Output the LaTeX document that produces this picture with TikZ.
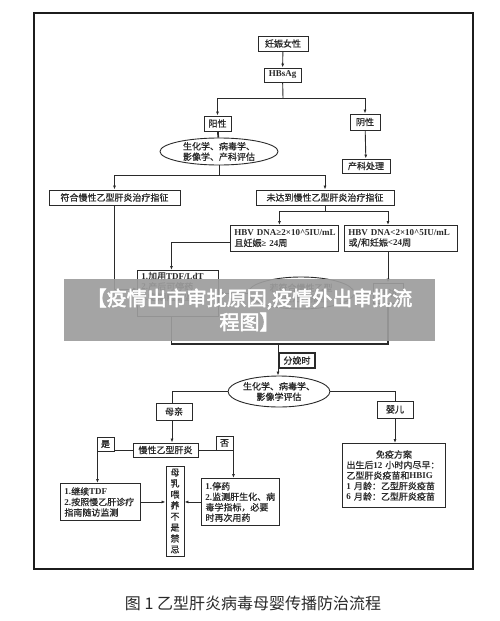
\documentclass[tikz,border=0pt]{standalone}
\usepackage{fontspec}
\setmainfont{Liberation Serif}
\newfontfamily\hei[FakeBold=0.8]{Noto Sans CJK SC}
\newfontfamily\capfont{Noto Sans CJK SC}
\newfontfamily\bannerfont[FakeBold=2.5]{Noto Sans CJK SC}
\newcommand\lat[1]{{\rmfamily\bfseries #1}}
\usetikzlibrary{arrows.meta,shapes.geometric}
\definecolor{ink}{HTML}{2A2A2A}
\definecolor{frameline}{HTML}{1C1C1C}
\definecolor{banner}{HTML}{9D9D9D}
\tikzset{
  box/.style={draw=ink,line width=.9pt,fill=white,inner sep=2pt,
    font=\hei\fontsize{9}{10.5}\selectfont,text=ink,align=center},
  left box/.style={box,anchor=north west,align=left,inner xsep=4pt,inner ysep=3pt},
  oval/.style={box,ellipse,inner sep=0pt},
  link/.style={draw=ink,line width=.9pt,-{Latex[length=4pt,width=3pt]}},
  plain/.style={draw=ink,line width=.9pt},
  merge/.style={draw=ink,line width=1.7pt},
  banner text/.style={font=\bannerfont\fontsize{20}{24}\selectfont,text=white,
    align=center,text width=345pt}
}
\begin{document}
\begin{tikzpicture}[x=1pt,y=-1pt]
  \path[use as bounding box] (0,0) rectangle (500,621);
  \fill[white] (0,0) rectangle (500,621);
  \draw[frameline,line width=1.6pt] (34,13) rectangle (473,569);

  % Screening.
  \node[box,minimum width=50pt,minimum height=15pt] (pregnant) at (283,43.5) {妊娠女性};
  \node[box,minimum width=37pt,minimum height=14pt,
        font=\rmfamily\bfseries\fontsize{9}{10.5}\selectfont] (hbsag) at (282.5,75) {HBsAg};
  \node[box,minimum width=27pt,minimum height=15pt] (pos) at (217.5,123.5) {阳性};
  \node[box,minimum width=30pt,minimum height=16pt] (neg) at (365,122) {阴性};
  \node[oval,minimum width=118pt,minimum height=27pt] (evalone) at (219,151.5)
    {生化学、病毒学、\\影像学、产科评估};
  \node[box,minimum width=48pt,minimum height=14pt] (obst) at (366,166) {产科处理};

  \draw[link] (pregnant) -- (hbsag);
  \coordinate (splitone) at (283,98);
  \draw[plain] (hbsag) -- (splitone);
  \draw[link] (splitone) -| (pos);
  \draw[link] (splitone) -| (neg);
  \draw[merge] (pos) -- (evalone);
  \draw[link] (neg) -- (obst);

  % Treatment indication.
  \node[box,minimum width=131pt,minimum height=15pt] (meet) at (114.5,197.5) {符合慢性乙型肝炎治疗指征};
  \node[box,minimum width=138pt,minimum height=15pt] (notmeet) at (325,197.5) {未达到慢性乙型肝炎治疗指征};
  \coordinate (splittwo) at (219,175);
  \draw[plain] (evalone) -- (splittwo);
  \draw[link] (splittwo) -| (meet);
  \draw[link] (splittwo) -| (notmeet);

  \node[left box,text width=100pt,minimum height=26pt] (high) at (230,225)
    {\mbox{\lat{HBV DNA≥2×10\textasciicircum5IU/mL}}\\且妊娠\lat{≥ 24}周};
  \node[left box,text width=105pt,minimum height=26pt] (low) at (344,225)
    {\mbox{\lat{HBV DNA<2×10\textasciicircum5IU/mL}}\\或/和妊娠\lat{<24}周};
  \node[left box,text width=73pt,text depth=36pt,inner ysep=1.5pt] (addtdf) at (137,270)
    {\lat{1.}加用\lat{TDF/LdT}\\\lat{2.}产后可停药\\\lat{3.}定期随访监测};
  \node[oval,minimum width=106pt,minimum height=32pt] (ifmeet) at (301,293)
    {若符合慢性乙型\\肝炎治疗指征};
  \node[box,minimum width=30pt,minimum height=20pt] (follow) at (388,293) {随访};

  \coordinate (splitthree) at (325,211);
  \draw[plain] (notmeet) -- (splitthree);
  \draw[link] (splitthree) -| ([xshift=-5pt]high.north);
  \draw[link] (splitthree) -| (follow.north |- low.north);
  \draw[link] ([yshift=-4pt]high.west) -| ([xshift=-6.5pt]addtdf.north);
  \draw[link] (meet) |- (114.5,289) -- (addtdf.west |- 0,289);
  \draw[link] (follow.north |- low.south) -- (follow);
  \draw[link] (follow) -- (ifmeet);
  \draw[link] (ifmeet.west) -- (ifmeet.west -| addtdf.east);

  % Delivery.
  \coordinate (join) at (278,344);
  \draw[merge] ([xshift=-6.5pt]addtdf.south) |- (join) -| (follow.south);
  \node[box,line width=2pt,anchor=west,minimum width=36pt,minimum height=15pt] (delivery)
    at (278,360.5) {分娩时};
  \node[oval,minimum width=100pt,minimum height=31pt] (evaltwo) at (279,391.5)
    {生化学、病毒学、\\影像学评估};
  \draw[link] (join) -- (join |- evaltwo.north);

  \node[box,minimum width=36pt,minimum height=17pt] (mother) at (174,411.5) {母亲};
  \node[box,minimum width=36pt,minimum height=17pt] (infant) at (395,409.5) {婴儿};
  \draw[plain] (evaltwo.west) -| ([xshift=-2pt]mother.north);
  \draw[plain] (evaltwo.east) -| (infant);

  % Mother branch.
  \node[box,minimum width=65pt,minimum height=14pt] (chb) at (165.5,450) {慢性乙型肝炎};
  \draw[link] ([xshift=-2pt]mother.south) -- ([xshift=-2pt]mother.south |- chb.north);
  \node[left box,text width=72pt,minimum height=37pt] (cont) at (60,483)
    {\lat{1.}继续\lat{TDF}\\\lat{2.}按照慢乙肝诊疗\\指南随访监测};
  \node[left box,text width=70pt,minimum height=47pt] (stop) at (201,478)
    {\lat{1.}停药\\\lat{2.}监测肝生化、病\\毒学指标，必要\\时再次用药};
  \node[box,minimum width=18pt,minimum height=90pt,inner sep=1pt,
        font=\hei\fontsize{9}{11}\selectfont] (breast) at (175,511)
    {母\\乳\\喂\\养\\不\\是\\禁\\忌};
  \draw[link] (chb.west) -| ([xshift=-3pt]cont.north);
  \draw[link] (chb.east) -| ([xshift=-7pt]stop.north);
  \node[box,minimum width=17pt,minimum height=14pt,inner sep=1pt] (yes) at (105.5,444) {是};
  \node[box,minimum width=17pt,minimum height=14pt,inner sep=1pt] (no) at (224.5,443) {否};
  \draw[link] (cont.east) -- (cont.east -| breast.west);
  \draw[link] (stop.west) -- (stop.west -| breast.east);

  % Infant branch.
  \node[left box,text width=95pt,minimum height=64pt] (vaccine) at (342,443)
    {\makebox[95pt]{免疫方案}\\出生后\lat{12} 小时内尽早：\\乙型肝炎疫苗和\lat{HBIG}\\
     \lat{1} 月龄：乙型肝炎疫苗\\\lat{6} 月龄：乙型肝炎疫苗};
  \draw[link] (infant) -- (infant |- vaccine.north);

  % Overlay banner.
  \fill[banner,opacity=.92] (64,279) rectangle (435,341);
  \node[banner text] (bannertxt) at (249.5,310)
    {【疫情出市审批原因,疫情外出审批流\\程图】};

  \node[font=\capfont\fontsize{16}{19}\selectfont,text=ink] (caption) at (253,603)
    {图 1 乙型肝炎病毒母婴传播防治流程};
\end{tikzpicture}
\end{document}
